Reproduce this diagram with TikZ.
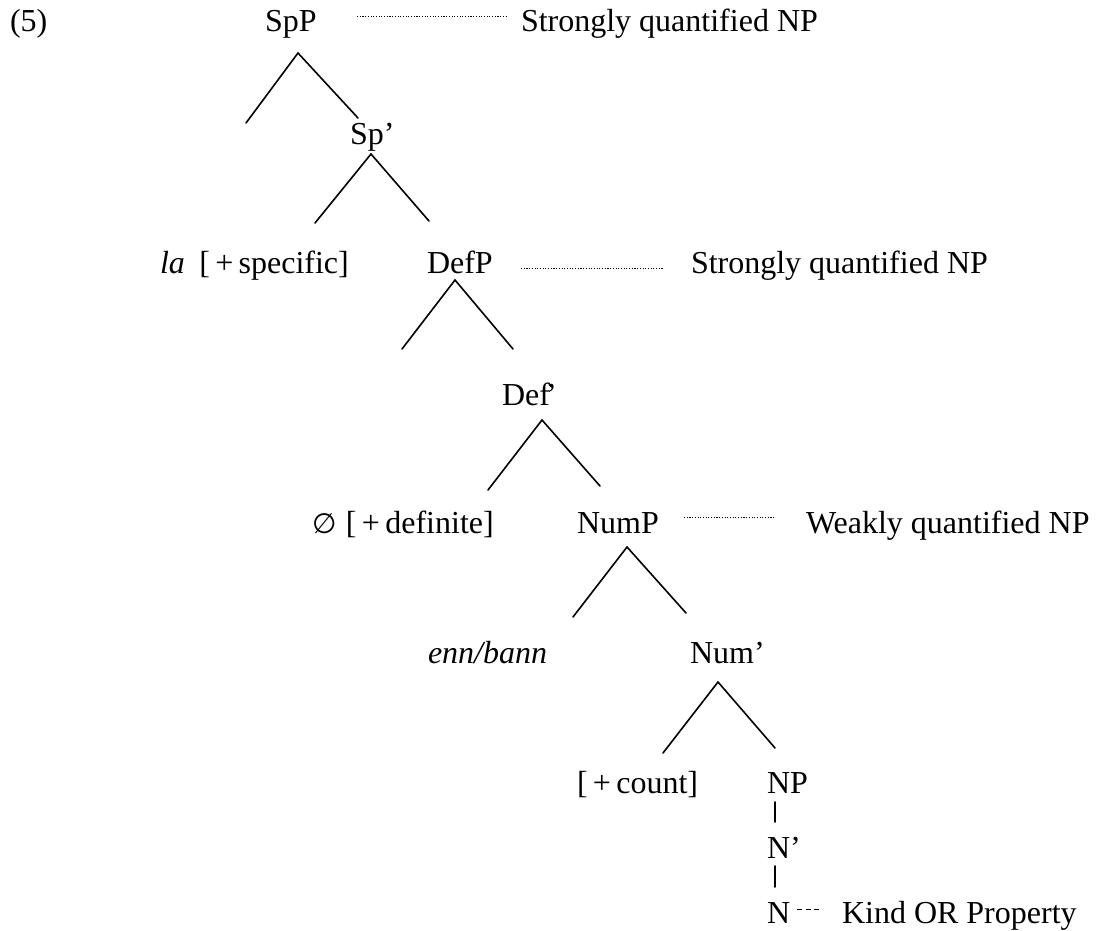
\documentclass[tikz,border=0pt]{standalone}
\usepackage{fontspec}
\setmainfont{Liberation Serif}
\newfontfamily\symbolfont{DejaVu Sans}
\begin{document}
\begin{tikzpicture}[x=1pt,y=-1pt,
  lab/.style={inner sep=0pt, outer sep=0pt, anchor=base west,
    font=\fontsize{32}{38}\selectfont},
  branch/.style={line width=1.6pt, line cap=round},
  guide/.style={line width=1pt, dash pattern=on 1.1pt off 1.6pt, black},
  shortdash/.style={line width=0.9pt, dash pattern=on 5pt off 3.5pt}]
\useasboundingbox (0,0) rectangle (1098,931);

% labels
\node[lab] (ex)     at (10,32)  {(5)};
\node[lab] (SpP)    at (265,32) {SpP};
\node[lab] (str1)   at (521,32) {Strongly quantified NP};
\node[lab] (Spbar)  at (350,145) {Sp’};
\node[lab] (la)     at (160,273) {\textit{la}\hspace{0.45em}[\,+\,specific]};
\node[lab] (DefP)   at (427,273) {DefP};
\node[lab] (str2)   at (691,273) {Strongly quantified NP};
\node[lab] (Defbar) at (502,405) {Def\kern-0.12em’};
\node[lab] (empty)  at (312,533) {{\symbolfont\fontsize{28}{34}\selectfont ∅}\hspace{0.3em}[\,+\,definite]};
\node[lab] (NumP)   at (577,533) {NumP};
\node[lab] (weak)   at (806,533) {Weakly quantified NP};
\node[lab] (enn)    at (428,663) {\textit{enn/bann}};
\node[lab] (Numbar) at (690,663) {Num’};
\node[lab] (count)  at (577,793) {[\,+\,count]};
\node[lab] (NP)     at (767,793) {NP};
\node[lab] (Nbar)   at (767,858) {N’};
\node[lab] (N)      at (767,923) {N};
\node[lab] (kind)   at (842,923) {Kind OR Property};

% branch points
\coordinate (a1) at (298,53);  \coordinate (a1l) at (246,123); \coordinate (a1r) at (358,118);
\coordinate (a2) at (371,154); \coordinate (a2l) at (315,223); \coordinate (a2r) at (429,221);
\coordinate (a3) at (455,280); \coordinate (a3l) at (402,349); \coordinate (a3r) at (513,349);
\coordinate (a4) at (542,420); \coordinate (a4l) at (488,490); \coordinate (a4r) at (600,486);
\coordinate (a5) at (627,547); \coordinate (a5l) at (573,617); \coordinate (a5r) at (686,613);
\coordinate (a6) at (718,682); \coordinate (a6l) at (663,753); \coordinate (a6r) at (775,748);
\coordinate (v1) at (775,802); \coordinate (v1e) at (775,822);
\coordinate (v2) at (775,866); \coordinate (v2e) at (775,887);

% tree branches
\draw[branch] (a1l) -- (a1) -- (a1r);
\draw[branch] (a2l) -- (a2) -- (a2r);
\draw[branch] (a3l) -- (a3) -- (a3r);
\draw[branch] (a4l) -- (a4) -- (a4r);
\draw[branch] (a5l) -- (a5) -- (a5r);
\draw[branch] (a6l) -- (a6) -- (a6r);
\draw[branch] (v1) -- (v1e);
\draw[branch] (v2) -- (v2e);

% guide lines to the readings
\coordinate (g1) at (357,17);  \coordinate (g1e) at (507,17);
\coordinate (g2) at (521,268); \coordinate (g2e) at (663,268);
\coordinate (g3) at (684,517); \coordinate (g3e) at (774,517);
\coordinate (g4) at (797,909); \coordinate (g4e) at (820,909);
\draw[guide] (g1) -- (g1e);
\draw[guide] (g2) -- (g2e);
\draw[guide] (g3) -- (g3e);
\draw[shortdash] (g4) -- (g4e);
\end{tikzpicture}
\end{document}
